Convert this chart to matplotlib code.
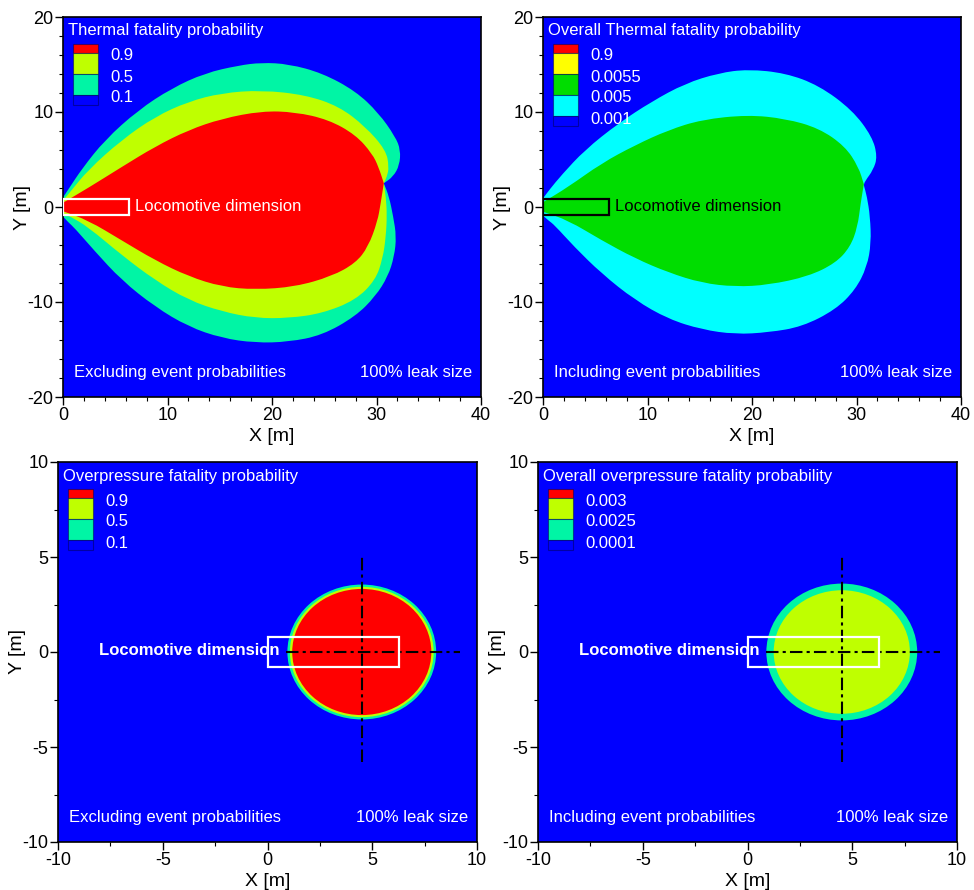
import numpy as np
import matplotlib
matplotlib.use("Agg")
import matplotlib.pyplot as plt
from matplotlib.path import Path
from matplotlib.patches import PathPatch, Rectangle, Ellipse

plt.rcParams['font.family'] = ['Liberation Sans', 'DejaVu Sans']
plt.rcParams['axes.unicode_minus'] = False

# ---------------- data ----------------
# Thermal fatality probability contours (excluding event probabilities)
th_p01_x = [0, 0.6, 1.8, 4, 7.2, 10.4, 13.6, 16.8, 19, 21.6, 24.8, 28, 30.2, 31.8, 32.3, 32.2, 31.6, 30.7,
            31.2, 31.6, 31.9, 31.7, 31.1, 29.9, 28, 24.8, 21.6, 18.4, 15.2, 12, 8.8, 5.6, 3, 1.1, 0.5, 0]
th_p01_y = [1.0, 2.0, 4.0, 7.05, 10.2, 12.5, 14.1, 14.9, 15.2, 15.05, 14.1, 12.2, 9.9, 7.4, 6.0, 4.4, 3.2, 2.5,
            1.1, -1.0, -3.1, -5.2, -7.3, -9.4, -11.5, -13.5, -14.2, -14.3, -13.8, -12.6, -10.5, -7.7, -4.6, -2.2, -1.6, -1.0]
th_p05_x = [0, 0.7, 2.4, 5.6, 8.8, 12, 15.2, 19, 23.2, 26.4, 28.9, 30.9, 31.2, 31.0, 30.7,
            30.9, 31.0, 30.9, 30.6, 29.9, 28, 24.8, 21.6, 18.4, 15.2, 12, 8.8, 5.6, 2.4, 0.7, 0]
th_p05_y = [0.7, 1.6, 3.9, 7.05, 9.5, 11.1, 12.0, 12.3, 11.8, 10.6, 8.5, 6.0, 4.2, 3.2, 2.5,
            1.0, -0.8, -3.1, -5.4, -7.7, -9.8, -11.2, -11.7, -11.7, -11.0, -9.8, -7.7, -5.05, -2.1, -1.0, -0.7]
th_p09_x = [0, 2.4, 5.6, 8.8, 12, 15.2, 19, 22.2, 25.4, 28, 29.6, 30.2, 30.7,
            30.4, 30.1, 29.2, 28, 25.7, 22.2, 18.4, 15.2, 12, 8.8, 5.6, 2.4, 0]
th_p09_y = [0.45, 2.0, 4.2, 6.35, 8.1, 9.3, 10.1, 10.0, 9.2, 7.6, 5.6, 4.2, 2.5,
            0.4, -1.5, -4.2, -5.9, -7.3, -8.4, -8.7, -8.4, -7.3, -5.6, -3.5, -1.4, -0.45]
NOTCH = (30.7, 2.5)

# Overall thermal fatality probability contours (including event probabilities)
ov_p001_x = [0, 0.6, 1.8, 4, 7.2, 10.4, 13.6, 16.8, 19.6, 23.2, 26.4, 29.6, 31.5, 32, 31.6, 30.8, 30.7,
             31, 31.3, 31.4, 31, 29.9, 28, 24.8, 21.6, 18.4, 15.2, 12, 8.8, 5.6, 3, 1.1, 0.5, 0]
ov_p001_y = [0.9, 1.8, 3.4, 6.0, 8.8, 11.1, 13.0, 14.1, 14.5, 14.1, 12.8, 10.2, 7.4, 5.3, 3.9, 2.7, 2.3,
             1.1, -1.0, -3.8, -6.3, -8.7, -10.8, -12.6, -13.2, -13.4, -12.9, -11.8, -9.8, -7.0, -4.2, -1.9, -1.4, -0.9]
ov_p005_x = [0, 2.4, 5.6, 8.8, 12, 15.2, 19.6, 23.2, 26.4, 28.9, 30.2, 30.7,
             30.4, 30.1, 29.4, 28, 25.4, 21.6, 18.4, 15.2, 12, 8.8, 5.6, 2.4, 0]
ov_p005_y = [0.5, 2.1, 4.6, 6.5, 8.1, 9.2, 9.7, 9.3, 8.3, 6.4, 4.2, 2.4,
             0.4, -2.1, -4.2, -5.9, -7.3, -8.2, -8.4, -8.0, -6.9, -5.4, -3.5, -1.4, -0.5]

# Overpressure circles: centre and radii of the contour levels
op_center = (4.5, 0.0)
op_radii_excl = [3.55, 3.43, 3.32]   # 0.1, 0.5, 0.9
op_radii_incl = [3.6, 3.25]          # 0.0001, 0.0025

# Locomotive outline [m]
loco_x = [0.0, 6.3]
loco_y = [-0.8, 0.8]

legend_th = ['0.9', '0.5', '0.1']
legend_ov = ['0.9', '0.0055', '0.005', '0.001']
legend_op = ['0.9', '0.5', '0.1']
legend_oop = ['0.003', '0.0025', '0.0001']

# ---------------- styles ----------------
BLUE = '#0000FF'
RED = '#FF0000'
YG = '#BFFF00'
TEAL = '#00F5A5'
YEL = '#FFFF00'
GRN = '#00DD00'
CYAN = '#00FFFF'

W, H = 974, 890
fig = plt.figure(figsize=(W / 100, H / 100), dpi=100)

def ax_at(l, r, t, b):
    return fig.add_axes([l / W, (H - b) / H, (r - l) / W, (b - t) / H])

ax_tl = ax_at(63, 481, 17, 397)
ax_tr = ax_at(543, 961, 17, 397)
ax_bl = ax_at(58, 477, 462, 842)
ax_br = ax_at(538, 957, 462, 842)


def smooth_patch(ax, xs, ys, color):
    pts = np.column_stack([xs, ys]).astype(float)
    n = len(pts)
    d = np.hypot(pts[:, 0] - NOTCH[0], pts[:, 1] - NOTCH[1])
    sharp = {0, n - 1, int(np.argmin(d))}
    mids = (pts + np.roll(pts, -1, axis=0)) / 2
    verts = [mids[0]]
    codes = [Path.MOVETO]
    for k in range(1, n + 1):
        i = k % n
        verts += [pts[i], mids[i]]
        if i in sharp:
            codes += [Path.LINETO, Path.LINETO]
        else:
            codes += [Path.CURVE3, Path.CURVE3]
    verts.append(mids[0])
    codes.append(Path.CLOSEPOLY)
    ax.add_patch(PathPatch(Path(verts, codes), facecolor=color, edgecolor='none', zorder=2))


def style_axes(ax, xlim, ylim, xmaj, xmin, ymaj, ymin):
    ax.set_facecolor(BLUE)
    ax.set_xlim(*xlim)
    ax.set_ylim(*ylim)
    ax.set_xticks(np.arange(xlim[0], xlim[1] + 0.01, xmaj))
    ax.set_xticks(np.arange(xlim[0], xlim[1] + 0.01, xmin), minor=True)
    ax.set_yticks(np.arange(ylim[0], ylim[1] + 0.01, ymaj))
    ax.set_yticks(np.arange(ylim[0], ylim[1] + 0.01, ymin), minor=True)
    ax.tick_params(which='both', direction='out', top=False, right=False, labelsize=13, pad=1)
    ax.tick_params(which='major', length=6, width=1)
    ax.tick_params(which='minor', length=3, width=0.8)
    for s in ax.spines.values():
        s.set_linewidth(1.2)
    ax.set_xlabel('X [m]', fontsize=14, labelpad=3)
    ax.set_ylabel('Y [m]', fontsize=14, labelpad=-3)


def legend(ax, title, colors, labels):
    ah = 380.0
    ax.text(0.012, 1 - 14 / ah, title, transform=ax.transAxes, fontsize=12,
            color='white', ha='left', va='center', zorder=6)
    heights = [9] + [21] * (len(colors) - 2) + [10]
    top = 27
    for c, h in zip(colors, heights):
        y0 = 1 - (top + h) / ah
        ax.add_patch(Rectangle((0.023, y0), 0.061, h / ah, transform=ax.transAxes,
                               facecolor=c, edgecolor=(0, 0, 0.3, 0.5), lw=0.8, zorder=6))
        top += h
    top = 27
    for i, lab in enumerate(labels):
        top += heights[i]
        ax.text(0.113, 1 - (top + 3) / ah, lab, transform=ax.transAxes, fontsize=12,
                color='white', ha='left', va='center', zorder=6)


def corner_texts(ax, left):
    ax.text(0.027, 0.064, left, transform=ax.transAxes, fontsize=12, color='white',
            ha='left', va='center', zorder=6)
    ax.text(0.978, 0.064, '100% leak size', transform=ax.transAxes, fontsize=12,
            color='white', ha='right', va='center', zorder=6)


def loco_rect(ax, color):
    ax.add_patch(Rectangle((loco_x[0], loco_y[0]), loco_x[1] - loco_x[0], loco_y[1] - loco_y[0],
                           facecolor='none', edgecolor=color, lw=1.6, zorder=4))


# ---- top-left ----
ax = ax_tl
style_axes(ax, (0, 40), (-20, 20), 10, 2, 10, 2)
smooth_patch(ax, th_p01_x, th_p01_y, TEAL)
smooth_patch(ax, th_p05_x, th_p05_y, YG)
smooth_patch(ax, th_p09_x, th_p09_y, RED)
loco_rect(ax, 'white')
ax.text(6.9, 0.1, 'Locomotive dimension', fontsize=12, color='white', va='center', zorder=5)
legend(ax, 'Thermal fatality probability', [RED, YG, TEAL, BLUE], legend_th)
corner_texts(ax, 'Excluding event probabilities')

# ---- top-right ----
ax = ax_tr
style_axes(ax, (0, 40), (-20, 20), 10, 2, 10, 2)
smooth_patch(ax, ov_p001_x, ov_p001_y, CYAN)
smooth_patch(ax, ov_p005_x, ov_p005_y, GRN)
loco_rect(ax, 'black')
ax.text(6.9, 0.1, 'Locomotive dimension', fontsize=12, color='black', va='center', zorder=5)
legend(ax, 'Overall Thermal fatality probability', [RED, YEL, GRN, CYAN, BLUE], legend_ov)
corner_texts(ax, 'Including event probabilities')


def overpressure(ax, radii, colors, title, leg_colors, labels, left):
    style_axes(ax, (-10, 10), (-10, 10), 5, 2.5, 5, 2.5)
    for r, c in zip(radii, colors):
        ax.add_patch(Ellipse(op_center, 2 * r, 2 * r, facecolor=c, edgecolor='none', zorder=2))
    cx, cy = op_center
    ax.plot([cx, cx], [-5.8, 5.1], color='black', lw=1.5, ls=(0, (6, 2, 1.5, 2)), zorder=3)
    ax.plot([0.9, 9.2], [cy, cy], color='black', lw=1.5, ls=(0, (6, 2, 1.5, 2)), zorder=3)
    loco_rect(ax, 'white')
    ax.text(0.55, 0.1, 'Locomotive dimension', fontsize=12, fontweight='bold', color='white',
            ha='right', va='center', zorder=5)
    legend(ax, title, leg_colors, labels)
    corner_texts(ax, left)


overpressure(ax_bl, op_radii_excl, [TEAL, YG, RED], 'Overpressure fatality probability',
             [RED, YG, TEAL, BLUE], legend_op, 'Excluding event probabilities')
overpressure(ax_br, op_radii_incl, [TEAL, YG], 'Overall overpressure fatality probability',
             [RED, YG, TEAL, BLUE], legend_oop, 'Including event probabilities')

fig.savefig('out.png', dpi=100)
